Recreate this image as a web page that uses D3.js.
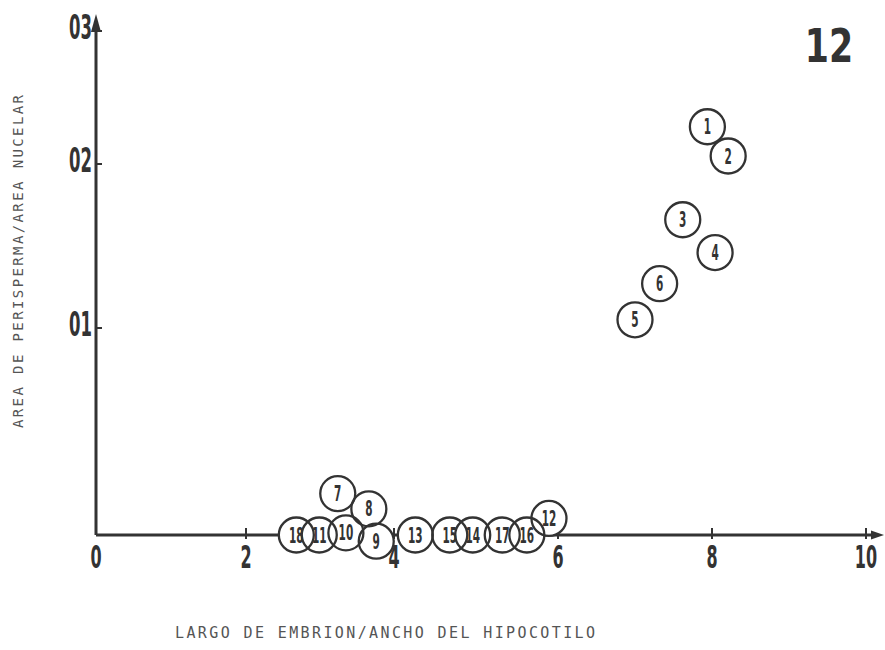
<!DOCTYPE html>
<html>
<head>
<meta charset="utf-8">
<script src="https://cdn.jsdelivr.net/npm/d3@7"></script>
<style>
  body { margin: 0; background: #fff; }
  svg { display: block; }
</style>
</head>
<body>
<svg id="chart" width="885" height="650"></svg>
<script>
// point numbers and their values
var ids    = [1, 2, 3, 4, 5, 6, 7, 8, 9, 10, 11, 12, 13, 14, 15, 16, 17, 18];
var xVals  = [7.94, 8.21, 7.62, 8.04, 7.00, 7.32, 3.24, 3.66, 3.76, 3.35, 2.99, 5.89, 4.26, 4.96, 4.68, 5.62, 5.32, 2.68];
var yVals  = [0.228, 0.206, 0.166, 0.146, 0.105, 0.127, 0.020, 0.0126, -0.003, 0.001, 0, 0.008, 0, 0, 0, 0, 0, 0];

var xTicks = [0, 2, 4, 6, 8, 10];
var xTickLabels = ["0", "2", "4", "6", "8", "10"];
var yTicks = [0.1, 0.2, 0.3];
var yTickLabels = ["01", "02", "03"];

var xTitle = "LARGO DE EMBRION/ANCHO DEL HIPOCOTILO";
var yTitle = "AREA DE PERISPERMA/AREA NUCELAR";
var figNumber = "12";

(function(){
    var svg = d3.select("#chart");
    var ink = "#333";
    var bold = "'DejaVu Sans', sans-serif";

    // the original is hand drawn, so the axes are not quite even
    var x = d3.scaleLinear().domain(xTicks).range([96, 246, 394, 558, 712, 866]);
    var y = d3.scaleLinear().domain([0, 0.1, 0.2, 0.3]).range([535, 328, 164, 31]);

    // bold digits squeezed sideways, like the stencil lettering of the figure
    function narrowText(sel, size, squeeze) {
        sel.attr("font-family", bold)
            .attr("font-weight", "bold")
            .attr("font-size", size)
            .attr("fill", ink)
            .attr("transform", function() {
                var t = d3.select(this);
                return "translate(" + t.attr("data-x") + "," + t.attr("data-y") + ") scale(" + squeeze + ",1)";
            });
    }

    // axes with long narrow arrowheads
    var x0 = x(0), y0 = y(0);
    svg.append("line")
        .attr("x1", x0).attr("y1", y0)
        .attr("x2", x0).attr("y2", 24)
        .attr("stroke", ink).attr("stroke-width", 3);
    svg.append("path")
        .attr("d", "M" + x0 + ",14 L" + (x0 - 5) + ",32 L" + (x0 + 5) + ",32 Z")
        .attr("fill", ink);
    svg.append("line")
        .attr("x1", x0).attr("y1", y0)
        .attr("x2", 876).attr("y2", y0)
        .attr("stroke", ink).attr("stroke-width", 3);
    svg.append("path")
        .attr("d", "M884," + y0 + " L871," + (y0 - 4.5) + " L871," + (y0 + 4.5) + " Z")
        .attr("fill", ink);

    // x ticks
    svg.selectAll(".xtick")
        .data(xTicks.slice(1))
        .enter().append("line")
        .attr("x1", function(d) { return x(d); })
        .attr("x2", function(d) { return x(d); })
        .attr("y1", y0 - 7).attr("y2", y0 + 4)
        .attr("stroke", ink).attr("stroke-width", 2);
    svg.selectAll(".xlab")
        .data(xTicks)
        .enter().append("text")
        .text(function(d, i) { return xTickLabels[i]; })
        .attr("data-x", function(d) { return x(d); })
        .attr("data-y", 568)
        .attr("text-anchor", "middle")
        .call(narrowText, 32, 0.5);

    // y ticks
    svg.selectAll(".ytick")
        .data(yTicks)
        .enter().append("line")
        .attr("x1", x0).attr("x2", x0 + 6)
        .attr("y1", function(d) { return y(d); })
        .attr("y2", function(d) { return y(d); })
        .attr("stroke", ink).attr("stroke-width", 2);
    svg.selectAll(".ylab")
        .data(yTicks)
        .enter().append("text")
        .text(function(d, i) { return yTickLabels[i]; })
        .attr("data-x", 92)
        .attr("data-y", function(d) { return y(d) + 8; })
        .attr("text-anchor", "end")
        .call(narrowText, 33, 0.5);

    // circles: fills first so overlapping outlines both stay visible
    var pts = ids.map(function(id, i) { return {id: id, x: xVals[i], y: yVals[i]}; });
    svg.selectAll(".bg")
        .data(pts)
        .enter().append("circle")
        .attr("cx", function(d) { return x(d.x); })
        .attr("cy", function(d) { return y(d.y); })
        .attr("r", 17.5)
        .attr("fill", "#fff");
    svg.selectAll(".ring")
        .data(pts)
        .enter().append("circle")
        .attr("cx", function(d) { return x(d.x); })
        .attr("cy", function(d) { return y(d.y); })
        .attr("r", 17.5)
        .attr("fill", "none")
        .attr("stroke", ink)
        .attr("stroke-width", 2.3);
    svg.selectAll(".num")
        .data(pts)
        .enter().append("text")
        .text(function(d) { return d.id; })
        .attr("data-x", function(d) { return x(d.x); })
        .attr("data-y", function(d) { return y(d.y) + 7.5; })
        .attr("text-anchor", "middle")
        .call(narrowText, 21, 0.5);

    // titles
    svg.append("text")
        .text(xTitle)
        .attr("x", 175).attr("y", 638)
        .attr("textLength", 420)
        .attr("lengthAdjust", "spacing")
        .attr("font-family", "'DejaVu Sans Mono', monospace")
        .attr("font-size", 15)
        .attr("fill", "#555");
    svg.append("text")
        .text(yTitle)
        .attr("transform", "translate(23,428) rotate(-90)")
        .attr("textLength", 333)
        .attr("lengthAdjust", "spacing")
        .attr("font-family", "'DejaVu Sans Mono', monospace")
        .attr("font-size", 14)
        .attr("fill", "#555");

    svg.append("text")
        .text(figNumber)
        .attr("data-x", 829).attr("data-y", 62)
        .attr("text-anchor", "middle")
        .call(narrowText, 47, 0.74);
})();
</script>
</body>
</html>
